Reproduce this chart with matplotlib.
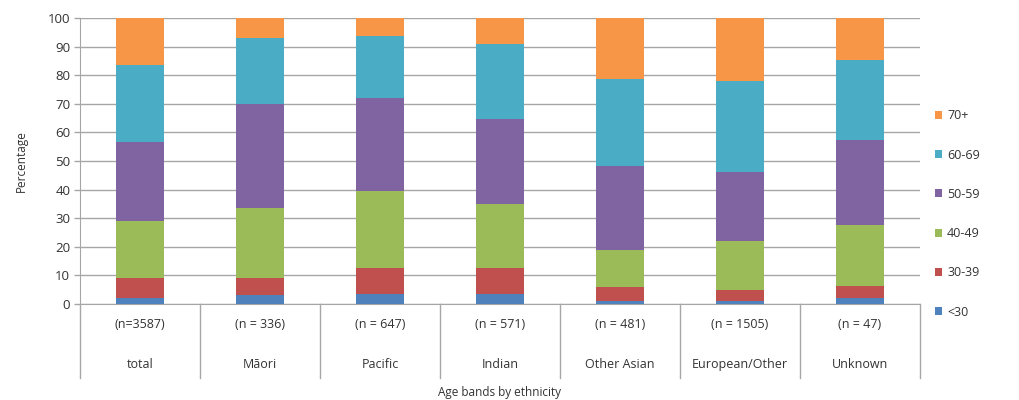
import matplotlib

matplotlib.use("Agg")
import matplotlib.pyplot as plt
import matplotlib.transforms as mtransforms
from matplotlib.patches import Patch
import numpy as np

groups = ["total", "Māori", "Pacific", "Indian", "Other Asian", "European/Other", "Unknown"]
counts = ["(n=3587)", "(n = 336)", "(n = 647)", "(n = 571)", "(n = 481)", "(n = 1505)", "(n = 47)"]
bands = ["<30", "30-39", "40-49", "50-59", "60-69", "70+"]

# percentage of each group in every age band
under_30 = [2.0, 3.0, 3.4, 3.4, 1.0, 1.0, 2.1]
age_30_39 = [7.0, 6.0, 9.3, 9.3, 4.8, 3.9, 4.3]
age_40_49 = [20.0, 24.5, 26.9, 22.2, 13.1, 17.3, 21.3]
age_50_59 = [27.5, 36.5, 32.6, 29.9, 29.4, 24.1, 29.8]
age_60_69 = [27.0, 23.0, 21.4, 26.1, 30.3, 31.8, 27.7]
age_70_plus = [16.5, 7.0, 6.4, 9.1, 21.4, 21.9, 15.4]

colors = ["#4F81BD", "#C0504D", "#9BBB59", "#8064A2", "#4BACC6", "#F79646"]
text_color = "#333333"
grid_color = "#A6A6A6"

plt.rcParams["font.family"] = ["Open Sans", "DejaVu Sans"]

fig = plt.figure(figsize=(10.2, 4.0), dpi=100)
ax = fig.add_axes([80 / 1020, 1 - 304 / 400, 840 / 1020, 286 / 400])

x = np.arange(len(groups))
series = [under_30, age_30_39, age_40_49, age_50_59, age_60_69, age_70_plus]
bottom = np.zeros(len(groups))
for values, color in zip(series, colors):
    ax.bar(x, values, width=0.4, bottom=bottom, color=color, zorder=3)
    bottom += np.array(values)

ax.set_xlim(-0.5, len(groups) - 0.5)
ax.set_ylim(0, 100)
ax.set_yticks(range(0, 101, 10))
ax.yaxis.grid(True, color=grid_color, linewidth=1.0, zorder=0)
ax.tick_params(axis="y", colors=grid_color, labelcolor=text_color, labelsize=9.5,
               length=4, width=1.0, pad=3)
ax.set_xticks([])
for side in ("top", "right"):
    ax.spines[side].set_visible(False)
ax.spines["left"].set_color(grid_color)
ax.spines["bottom"].set_color(grid_color)

# two-row category axis with vertical separators
trans = mtransforms.blended_transform_factory(ax.transData, ax.transAxes)
for edge in np.arange(len(groups) + 1) - 0.5:
    ax.plot([edge, edge], [0, -0.26], transform=trans, color=grid_color,
            linewidth=1.0, clip_on=False)
for i in x:
    ax.text(i, -0.073, counts[i], transform=trans, ha="center", va="center",
            fontsize=9, color=text_color)
    ax.text(i, -0.213, groups[i], transform=trans, ha="center", va="center",
            fontsize=9, color=text_color)

ax.text(0.5, -0.31, "Age bands by ethnicity", transform=ax.transAxes,
        ha="center", va="center", fontsize=8.5, color=text_color)
ax.set_ylabel("Percentage", fontsize=8.5, color=text_color, labelpad=14)

handles = [Patch(facecolor=c, label=b) for c, b in zip(colors, bands)][::-1]
ax.legend(handles=handles, loc="center left", bbox_to_anchor=(1.01, 0.315),
          frameon=False, fontsize=9, labelcolor=text_color, handlelength=0.6,
          handleheight=0.6, handletextpad=0.4, labelspacing=2.1, borderpad=0)

fig.savefig("out.png", dpi=100)
